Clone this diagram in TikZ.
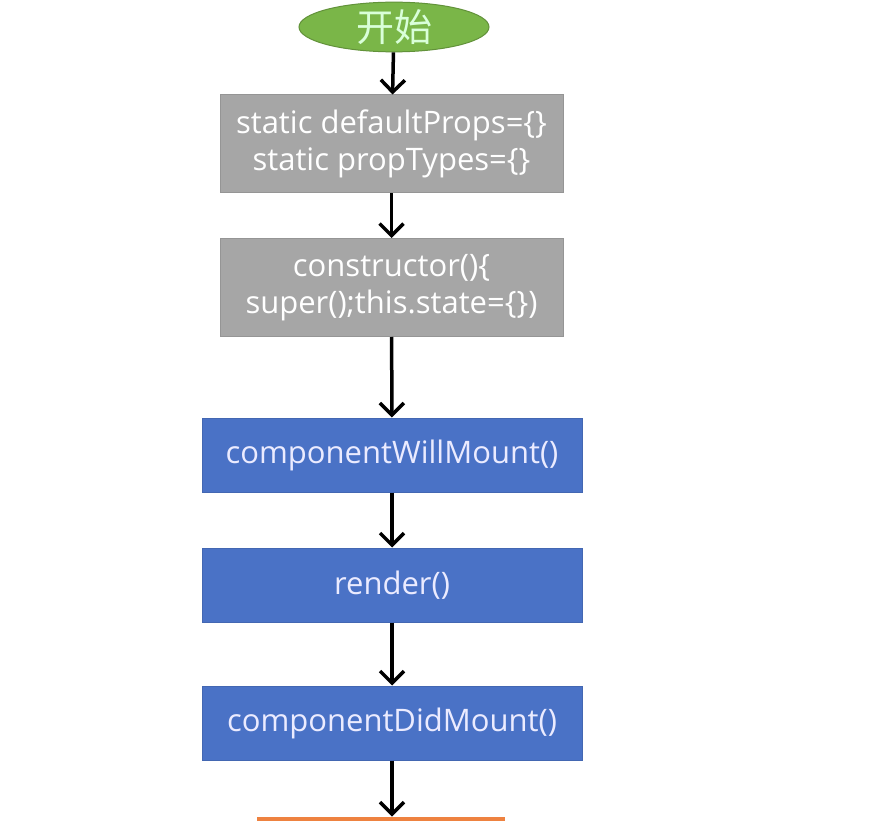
\documentclass[tikz,border=0pt]{standalone}
\usepackage{fontspec}
\setmainfont{Open Sans}
\newfontfamily\cjk{Noto Sans CJK SC}
\usetikzlibrary{arrows.meta,shapes.geometric}

\definecolor{startgreen}{HTML}{7AB648}
\definecolor{propgray}{HTML}{A6A6A6}
\definecolor{lifeblue}{HTML}{4A72C6}
\definecolor{nextorange}{HTML}{EE8240}

\begin{document}
\begin{tikzpicture}[
                x=1pt,y=-1pt,
                every node/.style={
                  inner sep=0pt,
                  align=center,
                  line width=1pt,
                  font=\fontsize{31}{37}\selectfont,
                },
                startnode/.style={
                  ellipse,
                  draw=startgreen!80!black,
                  fill=startgreen,
                  text=green!15,
                  font=\fontsize{38}{40}\selectfont\cjk,
                  minimum width=190pt,
                  minimum height=45pt,
                },
                propbox/.style={
                  rectangle,
                  draw=propgray!90!black,
                  fill=propgray,
                  text=white,
                  minimum width=343pt,
                  minimum height=98pt,
                },
                lifebox/.style={
                  rectangle,
                  draw=lifeblue!90!black,
                  fill=lifeblue,
                  text=blue!8,
                  minimum width=380pt,
                  minimum height=74pt,
                },
                line width=3.5pt,
                >={Straight Barb[length=12pt,width=24pt]},
              ]
              \clip (0,0) rectangle (887,821) ;
              \fill[white] (0,0) rectangle (887,821) ;
              \node[startnode] at (394,27) (start) {开始} ;
              \node[propbox] at (391.5,144) (props) {static defaultProps=\{\}\\static propTypes=\{\}} ;
              \node[propbox] at (391.5,287.5) (ctor) {constructor()\{\\super();this.state=\{\})} ;
              \node[lifebox] at (392,455) (willmount) {componentWillMount()} ;
              \node[lifebox] at (392,585) (render) {render()} ;
              \node[lifebox] at (392,723) (didmount) {componentDidMount()} ;
              \node[rectangle,fill=nextorange,minimum width=248pt,minimum height=60pt] at (381,847) (next) {} ;
              \draw[->] (start)--(props) ;
              \draw[->] (props)--(ctor) ;
              \draw[->] (ctor)--(willmount) ;
              \draw[->] (willmount)--(render) ;
              \draw[->] (render)--(didmount) ;
              \draw[->] (didmount.south)--(didmount.south|-next.north) ;
              \end{tikzpicture}
\end{document}
